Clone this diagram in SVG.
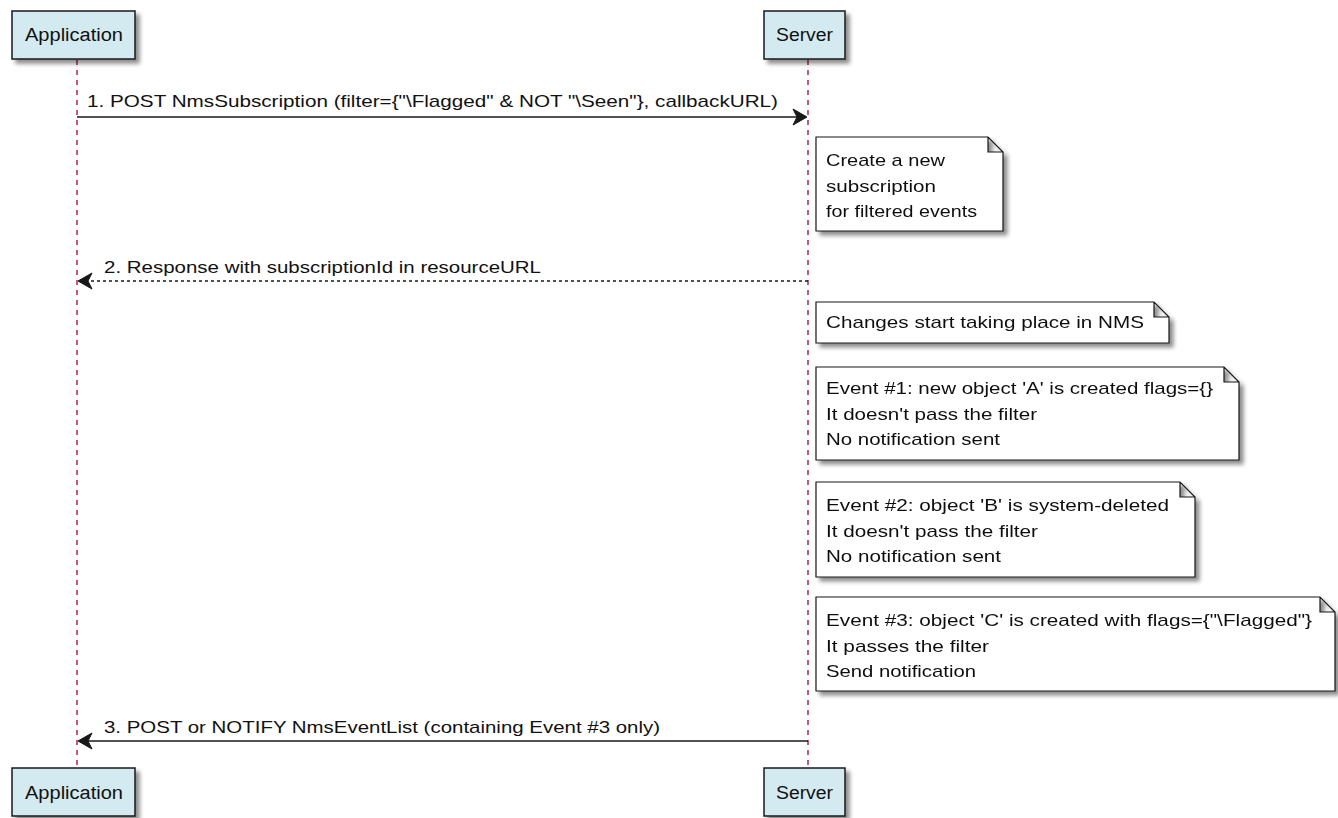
<svg xmlns="http://www.w3.org/2000/svg" width="1338" height="818" viewBox="0 0 1338 818">
<style>
.part{fill:#D3EAF0;stroke:#181818;stroke-width:1.5}
.ptxt{font-family:"Liberation Sans",Arial,sans-serif;font-size:18px;fill:#111;text-anchor:middle}
.life{stroke:#A80036;stroke-width:1.3;stroke-dasharray:5,5;fill:none}
.note{fill:#FFFFFF;stroke:#181818;stroke-width:1.2}
.ntxt{font-family:"Liberation Sans",Arial,sans-serif;font-size:17px;fill:#111}
.msg{stroke:#181818;stroke-width:1.5;fill:none}
.dash{stroke-dasharray:3,3}
.mtxt{font-family:"Liberation Sans",Arial,sans-serif;font-size:17px;fill:#111}
.head{fill:#181818;stroke:#181818;stroke-width:1}
</style>
<defs>
<filter id="sh" x="-10%" y="-10%" width="130%" height="140%">
<feGaussianBlur in="SourceAlpha" stdDeviation="2"/>
<feOffset dx="4" dy="4" result="b"/>
<feComponentTransfer><feFuncA type="linear" slope="0.45"/></feComponentTransfer>
<feMerge><feMergeNode/><feMergeNode in="SourceGraphic"/></feMerge>
</filter>
</defs>
<g id="lifelines">
<line class="life" x1="77" y1="60" x2="77" y2="768"/>
<line class="life" x1="808" y1="60" x2="808" y2="768"/>
</g>
<g id="app-top"><rect class="part" x="12" y="11" width="123" height="48" filter="url(#sh)"/><text class="ptxt" x="74" y="41" textLength="98" lengthAdjust="spacingAndGlyphs">Application</text></g>
<g id="server-top"><rect class="part" x="764" y="11" width="81" height="48" filter="url(#sh)"/><text class="ptxt" x="804.5" y="41" textLength="57" lengthAdjust="spacingAndGlyphs">Server</text></g>
<g id="app-bottom"><rect class="part" x="12" y="768" width="123" height="48" filter="url(#sh)"/><text class="ptxt" x="74" y="799" textLength="98" lengthAdjust="spacingAndGlyphs">Application</text></g>
<g id="server-bottom"><rect class="part" x="764" y="768" width="81" height="48" filter="url(#sh)"/><text class="ptxt" x="804.5" y="799" textLength="57" lengthAdjust="spacingAndGlyphs">Server</text></g>
<g id="connectors">
<line class="msg" x1="77" y1="117" x2="804" y2="117"/>
<polygon class="head" points="807,117 793,109 797,117 793,125"/>
<text class="mtxt" x="87" y="107" textLength="691" lengthAdjust="spacingAndGlyphs">1. POST NmsSubscription (filter={"\Flagged" &amp; NOT "\Seen"}, callbackURL)</text>
<line class="msg dash" x1="808" y1="281" x2="80" y2="281"/>
<polygon class="head" points="78,281 92,273 88,281 92,289"/>
<text class="mtxt" x="104" y="273" textLength="437" lengthAdjust="spacingAndGlyphs">2. Response with subscriptionId in resourceURL</text>
<line class="msg" x1="808" y1="741" x2="80" y2="741"/>
<polygon class="head" points="78,741 92,733 88,741 92,749"/>
<text class="mtxt" x="104" y="733" textLength="556" lengthAdjust="spacingAndGlyphs">3. POST or NOTIFY NmsEventList (containing Event #3 only)</text>
</g>
<g id="note1" filter="url(#sh)"><path class="note" d="M816,137 H988 L1003,152 V231 H816 Z M988,137 V152 H1003"/>
<text class="ntxt" x="826" y="166" textLength="119" lengthAdjust="spacingAndGlyphs">Create a new</text><text class="ntxt" x="826" y="192" textLength="110" lengthAdjust="spacingAndGlyphs">subscription</text><text class="ntxt" x="826" y="217" textLength="151" lengthAdjust="spacingAndGlyphs">for filtered events</text></g>
<g id="note2" filter="url(#sh)"><path class="note" d="M816,302 H1154 L1169,317 V343 H816 Z M1154,302 V317 H1169"/>
<text class="ntxt" x="826" y="328" textLength="318" lengthAdjust="spacingAndGlyphs">Changes start taking place in NMS</text></g>
<g id="note3" filter="url(#sh)"><path class="note" d="M816,367 H1224 L1239,382 V460 H816 Z M1224,367 V382 H1239"/>
<text class="ntxt" x="826" y="394" textLength="387" lengthAdjust="spacingAndGlyphs">Event #1: new object 'A' is created flags={}</text><text class="ntxt" x="826" y="420" textLength="211" lengthAdjust="spacingAndGlyphs">It doesn't pass the filter</text><text class="ntxt" x="826" y="445" textLength="174" lengthAdjust="spacingAndGlyphs">No notification sent</text></g>
<g id="note4" filter="url(#sh)"><path class="note" d="M816,482 H1180 L1195,497 V577 H816 Z M1180,482 V497 H1195"/>
<text class="ntxt" x="826" y="511" textLength="343" lengthAdjust="spacingAndGlyphs">Event #2: object 'B' is system-deleted</text><text class="ntxt" x="826" y="537" textLength="212" lengthAdjust="spacingAndGlyphs">It doesn't pass the filter</text><text class="ntxt" x="826" y="562" textLength="175" lengthAdjust="spacingAndGlyphs">No notification sent</text></g>
<g id="note5" filter="url(#sh)"><path class="note" d="M816,597 H1320 L1335,612 V691 H816 Z M1320,597 V612 H1335"/>
<text class="ntxt" x="826" y="626" textLength="486" lengthAdjust="spacingAndGlyphs">Event #3: object 'C' is created with flags={"\Flagged"}</text><text class="ntxt" x="826" y="652" textLength="163" lengthAdjust="spacingAndGlyphs">It passes the filter</text><text class="ntxt" x="826" y="677" textLength="150" lengthAdjust="spacingAndGlyphs">Send notification</text></g>
</svg>
